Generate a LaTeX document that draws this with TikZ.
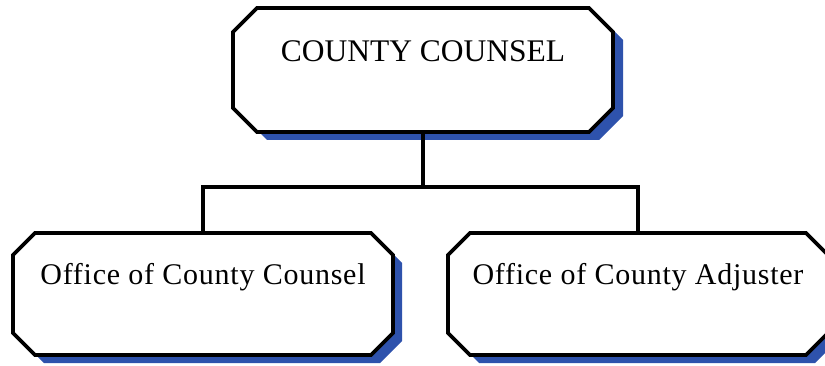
\documentclass[tikz,border=0pt]{standalone}
\usepackage{fontspec}
\setmainfont{Liberation Serif}
\newfontfamily\spacedfont[LetterSpace=2.5]{Liberation Serif}
\usetikzlibrary{backgrounds}
\definecolor{shadowblue}{RGB}{46,82,172}
\newcommand\octpath[4]{([xshift=#3+#2,yshift=#4]#1.north west) -- ([xshift=#3-#2,yshift=#4]#1.north east) -- ([xshift=#3,yshift=#4-#2]#1.north east) -- ([xshift=#3,yshift=#4+#2]#1.south east) -- ([xshift=#3-#2,yshift=#4]#1.south east) -- ([xshift=#3+#2,yshift=#4]#1.south west) -- ([xshift=#3,yshift=#4+#2]#1.south west) -- ([xshift=#3,yshift=#4-#2]#1.north west) -- cycle}
\tikzset{
  orgbox/.style={inner sep=0pt, outer sep=0pt, minimum width=380pt, draw=none},
  octline/.style={line width=3.8pt, line join=miter, draw=black, fill=white},
  octshadow/.style={fill=shadowblue, draw=none},
  conn/.style={line width=3.2pt, line cap=rect, draw=black},
}
\begin{document}
\begin{tikzpicture}[x=1pt,y=-1pt]
\useasboundingbox (0,0) rectangle (825,366);
\node[orgbox, minimum height=124pt, text height=25pt, text depth=41pt,
      font=\fontsize{31.5}{36}\selectfont] (top) at (423,70) {COUNTY COUNSEL};
\node[orgbox, minimum height=122pt, text height=25pt, text depth=43pt,
      font=\fontsize{30}{34}\spacedfont] (left) at (203,294) {Office of County Counsel};
\node[orgbox, minimum height=122pt, text height=25pt, text depth=43pt,
      font=\fontsize{30}{34}\spacedfont] (right) at (638,294) {Office of County Adjuster};
\coordinate (bus) at (423,187);
\begin{scope}[on background layer]
  \path[octshadow] \octpath{top}{24pt}{10pt}{-8pt};
  \path[octline] \octpath{top}{24pt}{0pt}{0pt};
  \path[octshadow] \octpath{left}{22pt}{9pt}{-8pt};
  \path[octline] \octpath{left}{22pt}{0pt}{0pt};
  \path[octshadow] \octpath{right}{22pt}{9pt}{-8pt};
  \path[octline] \octpath{right}{22pt}{0pt}{0pt};
\end{scope}
\draw[conn] (top.south) -- (bus);
\draw[conn] (left.north) |- (bus) -| (right.north);
\end{tikzpicture}
\end{document}
